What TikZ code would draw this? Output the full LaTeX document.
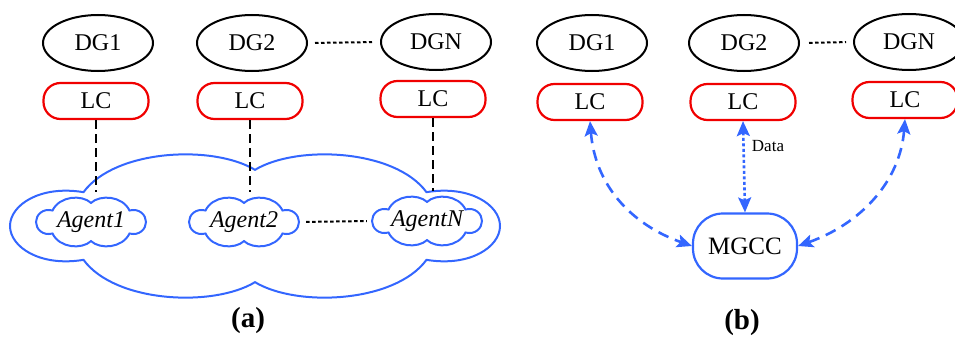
\documentclass[tikz,border=0pt]{standalone}
\usepackage{fontspec}
\setmainfont{Liberation Serif}
\usetikzlibrary{arrows.meta,calc,shapes.geometric}
\definecolor{cblue}{RGB}{51,102,255}
\definecolor{cred}{RGB}{240,0,0}
\newcommand\mycloud[3]{%
  \draw[cloudline,shift={#1},xscale=#2,yscale=#3]
    (-0.70,-0.47) .. controls (-0.57,-1.07) and (-0.17,-1.13) .. (0,-0.78)
    .. controls (0.17,-1.13) and (0.57,-1.07) .. (0.70,-0.47)
    .. controls (0.878,-0.57) and (1,-0.29) .. (1,0)
    .. controls (1,0.29) and (0.878,0.57) .. (0.70,0.47)
    .. controls (0.57,1.07) and (0.17,1.13) .. (0,0.78)
    .. controls (-0.17,1.13) and (-0.57,1.07) .. (-0.70,0.47)
    .. controls (-0.878,0.57) and (-1,0.29) .. (-1,0)
    .. controls (-1,-0.29) and (-0.878,-0.57) .. (-0.70,-0.47) -- cycle;}
\begin{document}
\begin{tikzpicture}[x=1pt,y=-1pt,
  dg/.style={ellipse,draw=black,line width=2pt,minimum width=110pt,minimum height=56pt,inner sep=0pt,font=\fontsize{24}{29}\selectfont},
  lc/.style={draw=cred,line width=2.2pt,rounded corners=17pt,minimum width=105pt,minimum height=36pt,inner sep=0pt,font=\fontsize{24}{29}\selectfont},
  mg/.style={draw=cblue,line width=2.2pt,rounded corners=30pt,minimum width=104pt,minimum height=65pt,inner sep=0pt,font=\fontsize{25}{30}\selectfont},
  agent/.style={minimum width=110pt,minimum height=49pt,inner sep=0pt,font=\fontsize{24}{29}\selectfont\itshape},
  cloudline/.style={draw=cblue,line width=2pt},
  dline/.style={black,line width=2pt,dash pattern=on 9pt off 5pt},
  dotline/.style={black,line width=2pt,dash pattern=on 3.5pt off 2.5pt},
  barrow/.style={cblue,line width=2.6pt,dash pattern=on 11pt off 7pt,{Stealth[length=15pt,width=13pt,inset=3pt]}-{Stealth[length=15pt,width=13pt,inset=3pt]}},
  darrow/.style={cblue,line width=2.6pt,dash pattern=on 3pt off 2.5pt,{Stealth[length=15pt,width=13pt,inset=3pt]}-{Stealth[length=15pt,width=13pt,inset=3pt]}},
  captext/.style={font=\fontsize{29}{34}\selectfont\bfseries}
]
\useasboundingbox (0,0) rectangle (955,345);
% ---- (a) ----
\node[dg] (dg1) at (98,43) {DG1};
\node[dg] (dg2) at (252,43) {DG2};
\node[dg] (dgn) at (436,42) {DGN};
\draw[dotline,shorten <=7pt,shorten >=8pt] (dg2.east) -- (dgn.west);
\node[lc] (lc1) at (96,101) {LC};
\node[lc] (lc2) at (250,101) {LC};
\node[lc] (lcn) at (433,99) {LC};
\mycloud{(255,226)}{245}{72}
\node[agent] (a1) at (91,222) {Agent1};
\node[agent] (a2) at (244,222) {Agent2};
\node[agent] (an) at (427,221) {AgentN};
\mycloud{(91,222)}{55}{24.5}
\mycloud{(244,222)}{55}{24.5}
\mycloud{(427,221)}{55}{24.5}
\draw[dotline,shorten <=7pt,shorten >=5pt] (a2.east) -- (an.west);
\draw[dline,shorten >=5pt] (lc1.south) -- (lc1.south |- a1.north);
\draw[dline,shorten >=5pt] (lc2.south) -- (lc2.south |- a2.north);
\draw[dline,shorten >=5pt] (lcn.south) -- (lcn.south |- an.north);
\node[captext] (capa) at (248,321) {(a)};
% ---- (b) ----
\node[dg] (dg1r) at (592,43) {DG1};
\node[dg] (dg2r) at (744,43) {DG2};
\node[dg] (dgnr) at (909,42) {DGN};
\draw[dotline,shorten <=9pt,shorten >=7pt] (dg2r.east) -- (dgnr.west);
\node[lc] (lc1r) at (590,102) {LC};
\node[lc] (lc2r) at (743,102) {LC};
\node[lc] (lcnr) at (905,100) {LC};
\node[mg] (mgcc) at (745,246) {MGCC};
\draw[barrow] (lc1r.south) .. controls ($(lc1r.south)+(5,63)$) and ($(mgcc.west)+(-62,-22)$) .. (mgcc.west);
\draw[barrow] (lcnr.south) .. controls ($(lcnr.south)+(-5,63)$) and ($(mgcc.east)+(62,-22)$) .. (mgcc.east);
\draw[darrow] (lc2r.south) -- (mgcc.north);
\node[font=\fontsize{17}{20}\selectfont] (data) at (768,146) {Data};
\node[captext] (capb) at (742,323) {(b)};
\end{tikzpicture}
\end{document}
